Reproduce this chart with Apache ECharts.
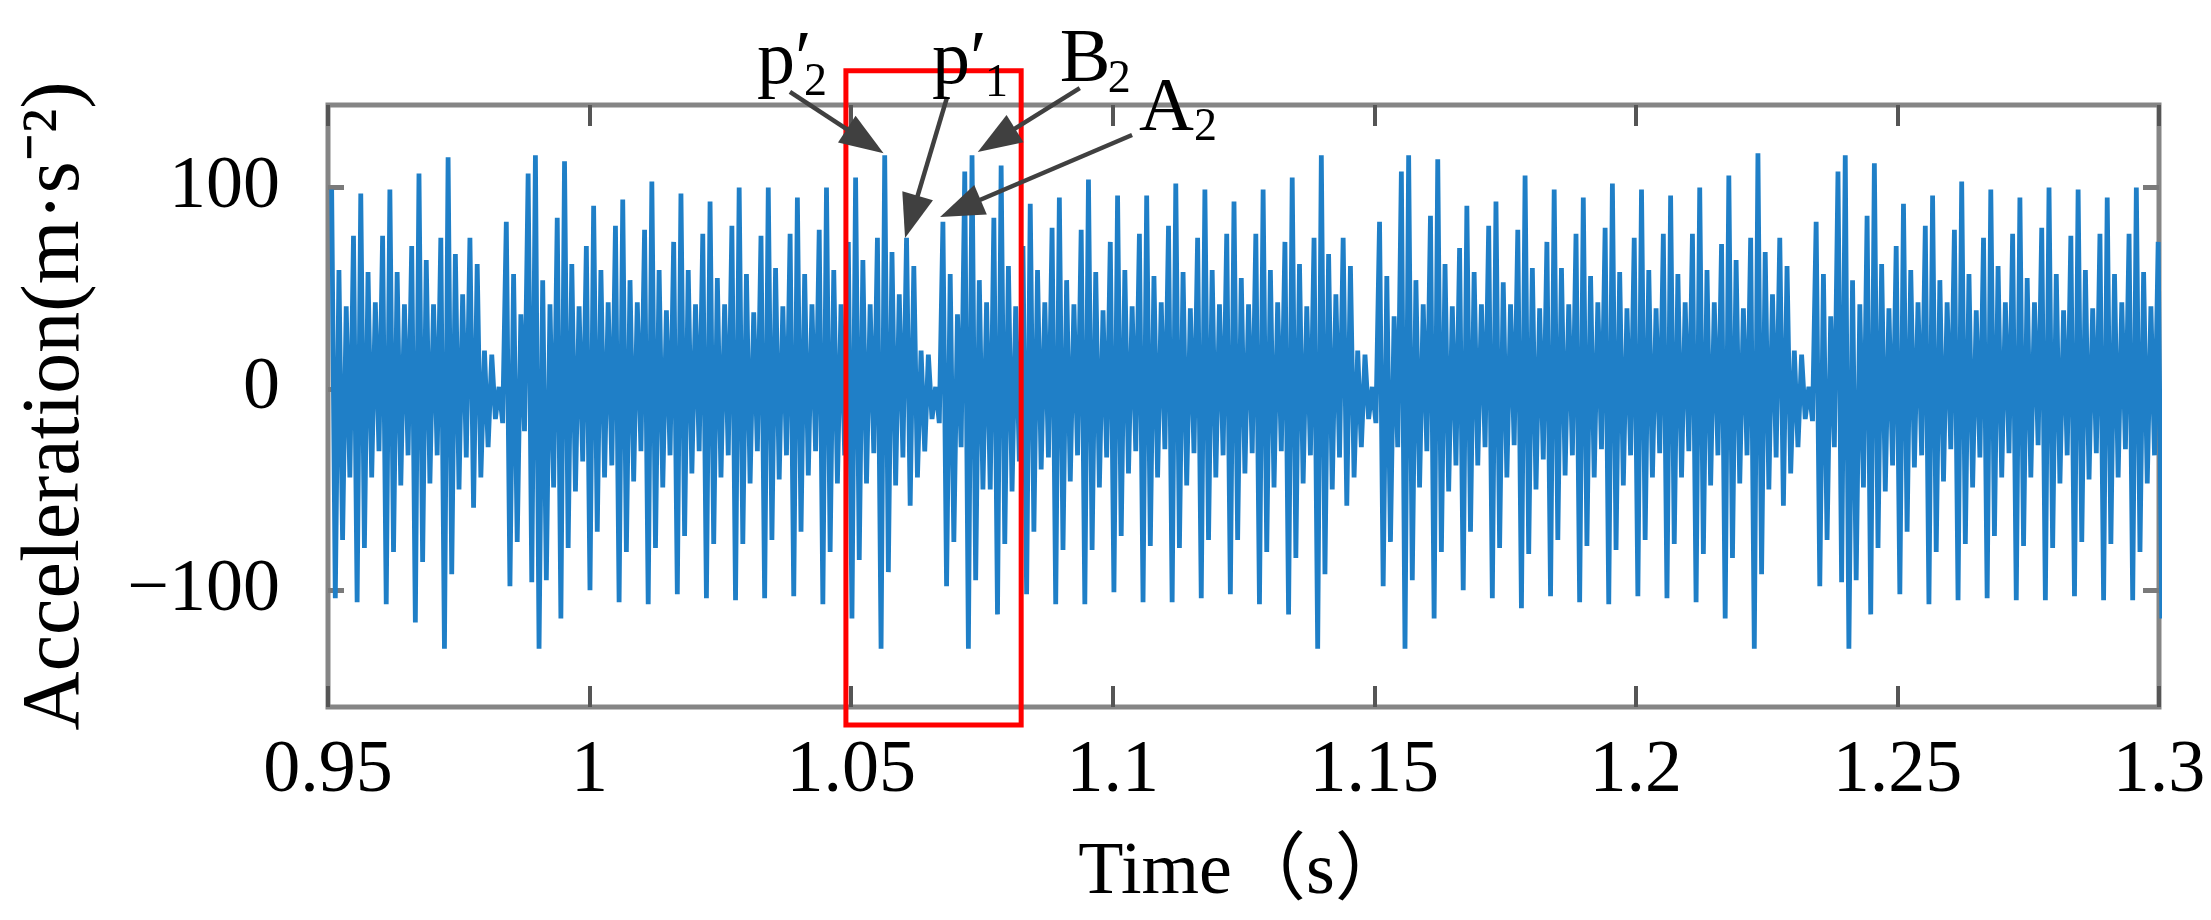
<!DOCTYPE html>
<html>
<head>
<meta charset="utf-8">
<title>Acceleration</title>
<script src="https://cdn.jsdelivr.net/npm/echarts@6/dist/echarts.min.js"></script>
<style>
  html, body { margin: 0; background: #fff; }
  #chart { width: 2211px; height: 920px; }
</style>
</head>
<body>
<div id="chart"></div>
<script>
const firstSample = 0.9507
const samplePeriod = 0.001391

const peaks = [
  99, 59, 41, 76, 97, 58, 43, 76, 99, 58, 42, 71, 107, 64, 42, 75, 115, 67, 47, 75,
  62, 19, 17, 1, 83, 57, 37, 107, 116, 54, 42, 85, 113, 62, 41, 71, 91, 59, 43, 81,
  94, 54, 43, 79, 103, 59, 39, 73, 97, 59, 42, 77, 93, 55, 42, 81, 100, 57, 38, 76,
  100, 60, 41, 77, 95, 57, 42, 79, 100, 59, 42, 73, 105, 64, 42, 75, 116, 68, 47, 75,
  61, 19, 17, 1, 83, 57, 37, 108, 116, 54, 43, 85, 111, 61, 41, 71, 92, 59, 43, 80,
  95, 54, 42, 79, 104, 58, 39, 73, 96, 59, 41, 77, 96, 56, 43, 81, 102, 58, 40, 75,
  99, 59, 42, 77, 93, 55, 42, 77, 99, 59, 43, 73, 105, 62, 41, 75, 116, 67, 47, 75,
  61, 19, 17, 1, 83, 56, 36, 108, 116, 54, 42, 86, 114, 62, 41, 70, 91, 58, 42, 81,
  93, 53, 42, 79, 106, 60, 40, 73, 99, 60, 42, 77, 95, 56, 43, 80, 102, 58, 40, 75,
  99, 59, 40, 77, 96, 57, 43, 77, 100, 59, 43, 72, 106, 64, 40, 75, 117, 68, 47, 75,
  61, 19, 17, 1, 83, 57, 36, 108, 116, 54, 42, 86, 112, 62, 40, 71, 92, 59, 43, 81,
  96, 54, 43, 79, 103, 57, 39, 75, 99, 61, 43, 77, 95, 55, 43, 80, 100, 57, 39, 76,
  99, 59, 40, 77, 95, 57, 43, 77, 100, 58, 41, 73
]

const troughs = [
  -104, -75, -44, -106, -79, -44, -31, -107, -81, -48, -33, -116, -86, -47, -33, -129, -92, -50, -34, -59,
  -44, -29, -15, -17, -98, -76, -21, -96, -129, -95, -49, -114, -79, -51, -36, -100, -71, -44, -38, -106,
  -81, -46, -31, -107, -79, -49, -33, -102, -73, -42, -31, -104, -77, -44, -33, -105, -77, -47, -31, -104,
  -75, -45, -33, -103, -71, -43, -31, -107, -81, -47, -33, -114, -85, -47, -32, -129, -91, -48, -34, -58,
  -44, -31, -15, -17, -98, -76, -29, -129, -95, -50, -50, -112, -77, -51, -36, -102, -71, -40, -34, -107,
  -80, -46, -33, -107, -80, -49, -34, -101, -73, -42, -31, -106, -78, -44, -30, -106, -79, -48, -32, -104,
  -75, -44, -33, -102, -75, -42, -32, -107, -81, -49, -31, -112, -84, -47, -33, -129, -92, -50, -34, -58,
  -44, -29, -15, -17, -98, -76, -29, -129, -95, -49, -31, -114, -81, -51, -38, -100, -71, -38, -29, -104,
  -79, -44, -28, -109, -82, -50, -35, -103, -75, -43, -33, -106, -78, -44, -30, -107, -80, -48, -33, -103,
  -75, -44, -32, -104, -77, -44, -31, -106, -82, -48, -33, -114, -84, -47, -33, -129, -92, -50, -34, -58,
  -42, -29, -15, -16, -98, -75, -29, -96, -129, -95, -49, -112, -79, -51, -38, -102, -71, -39, -33, -107,
  -81, -46, -30, -105, -77, -49, -34, -104, -73, -44, -32, -105, -78, -44, -28, -105, -79, -47, -33, -103,
  -76, -45, -32, -105, -77, -44, -30, -105, -81, -47, -33, -114
]

const timeRange = [0.95, 1.3]
const accelRange = [-158, 141]
const accelTicks = [-100, 0, 100]

// red box around the marked window (time, acceleration)
const boxTime = [1.049, 1.0825]
const boxAccel = [-167, 158]

// arrow annotations: tail and tip in data units
const notes = [
  { main: 'p\u2032', sub: '2', tail: [1.0383, 147.5], tip: [1.0562, 117] },
  { main: 'p\u2032', sub: '1', tail: [1.0683, 144.5], tip: [1.0603, 75] },
  { main: 'B', sub: '2', tail: [1.0937, 149.4], tip: [1.0742, 117.7] },
  { main: 'A', sub: '2', tail: [1.1037, 126.1], tip: [1.0670, 85.4] }
]
// label placement relative to the arrow tail, in pixels
const noteOffsets = [
  { main: [-33, -29], sub: [14, -9] },
  { main: [-15, -35], sub: [38, -14] },
  { main: [-20, -27], sub: [28, -8] },
  { main: [7, -25], sub: [62, -7] }
]

const serif = '"Liberation Serif", "Times New Roman", "Noto Sans CJK SC", serif'

let series = []
for (let k = 0; k < peaks.length; k++) {
  series.push([firstSample + k * samplePeriod, peaks[k]])
  series.push([firstSample + (k + 0.5) * samplePeriod, troughs[k]])
}

const chart = echarts.init(document.getElementById('chart'), null, { renderer: 'canvas' })

// the frame is the grid border; axes only carry inward ticks
const tickStyleX = { show: true, inside: true, length: 21, lineStyle: { color: '#555', width: 4 } }
const tickStyleY = { show: true, inside: true, length: 16, customValues: accelTicks, lineStyle: { color: '#7a7a7a', width: 5 } }
const noLine = { show: false, onZero: false }

chart.setOption({
  animation: false,
  backgroundColor: '#fff',
  grid: {
    left: 328, right: 52, top: 105, bottom: 213,
    show: true, borderColor: '#858585', borderWidth: 5, backgroundColor: '#fff'
  },
  xAxis: [
    {
      type: 'value', min: timeRange[0], max: timeRange[1], interval: 0.05,
      name: 'Time\uFF08s\uFF09', nameLocation: 'middle', nameGap: 130,
      nameTextStyle: { fontFamily: serif, fontSize: 74, color: '#000' },
      axisLine: noLine,
      axisTick: tickStyleX,
      splitLine: { show: false },
      axisLabel: { fontFamily: serif, fontSize: 74, color: '#000', margin: 28 }
    },
    {
      type: 'value', position: 'top', min: timeRange[0], max: timeRange[1], interval: 0.05,
      axisLine: noLine, axisTick: tickStyleX,
      axisLabel: { show: false }, splitLine: { show: false }
    }
  ],
  yAxis: [
    {
      type: 'value', min: accelRange[0], max: accelRange[1],
      name: 'Acceleration(m\u00B7s\u207B\u00B2)', nameLocation: 'middle', nameGap: 231,
      nameTextStyle: { fontFamily: serif, fontSize: 82, color: '#000' },
      axisLine: noLine,
      axisTick: tickStyleY,
      splitLine: { show: false },
      axisLabel: {
        customValues: accelTicks,
        fontFamily: serif, fontSize: 74, color: '#000', margin: 48,
        formatter: v => (v < 0 ? '\u2212' + (-v) : String(v))
      }
    },
    {
      type: 'value', position: 'right', min: accelRange[0], max: accelRange[1],
      axisLine: noLine, axisTick: tickStyleY,
      axisLabel: { show: false }, splitLine: { show: false }
    }
  ],
  series: [{
    type: 'line',
    data: series,
    showSymbol: false,
    symbol: 'none',
    silent: true,
    lineStyle: { color: '#1f7fc7', width: 4.8, join: 'bevel' }
  }]
})

function drawNotes() {
  const toPx = p => chart.convertToPixel({ xAxisIndex: 0, yAxisIndex: 0 }, p)
  const g = []
  const a = toPx([boxTime[0], boxAccel[1]])
  const b = toPx([boxTime[1], boxAccel[0]])
  g.push({
    type: 'rect', z: 100,
    shape: { x: a[0], y: a[1], width: b[0] - a[0], height: b[1] - a[1] },
    style: { fill: null, stroke: '#ff0000', lineWidth: 5 }
  })
  const headLen = 44, headHalf = 16
  notes.forEach((n, i) => {
    const s = toPx(n.tail), e = toPx(n.tip)
    const dx = e[0] - s[0], dy = e[1] - s[1]
    const len = Math.hypot(dx, dy)
    const ux = dx / len, uy = dy / len
    const bx = e[0] - ux * headLen, by = e[1] - uy * headLen
    g.push({
      type: 'line', z: 101,
      shape: { x1: s[0], y1: s[1], x2: bx + ux * 4, y2: by + uy * 4 },
      style: { stroke: '#404040', lineWidth: 4.5 }
    })
    g.push({
      type: 'polygon', z: 101,
      shape: { points: [[e[0], e[1]], [bx - uy * headHalf, by + ux * headHalf], [bx + uy * headHalf, by - ux * headHalf]] },
      style: { fill: '#404040' }
    })
    const off = noteOffsets[i]
    g.push({
      type: 'text', z: 102, x: s[0] + off.main[0], y: s[1] + off.main[1],
      style: { text: n.main, fontFamily: serif, fontSize: 76, fill: '#000', align: 'left', verticalAlign: 'middle' }
    })
    g.push({
      type: 'text', z: 102, x: s[0] + off.sub[0], y: s[1] + off.sub[1],
      style: { text: n.sub, fontFamily: serif, fontSize: 46, fill: '#000', align: 'left', verticalAlign: 'middle' }
    })
  })
  chart.setOption({ graphic: g })
}
drawNotes()
</script>
</body>
</html>
